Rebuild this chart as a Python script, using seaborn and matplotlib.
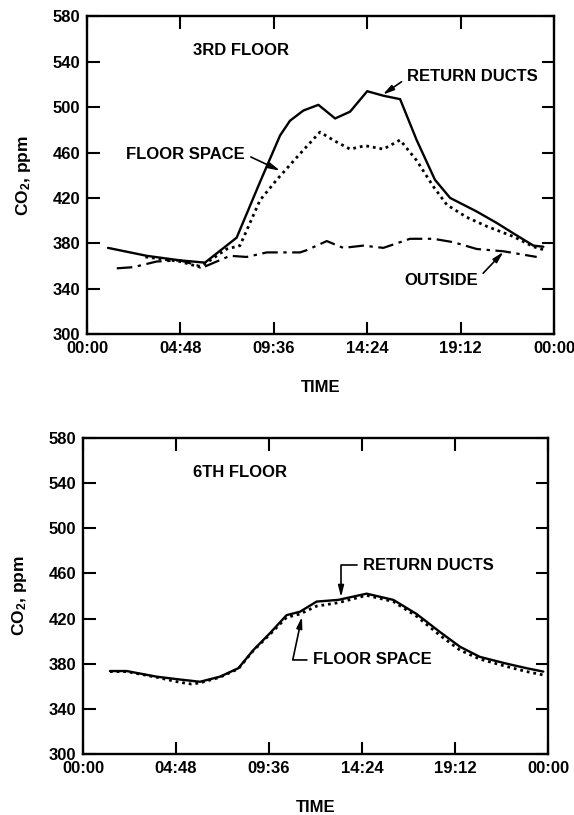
import numpy as np
import pandas as pd
import matplotlib
matplotlib.use("Agg")
import matplotlib.pyplot as plt
import seaborn as sns

# -- data (hours since midnight, CO2 ppm) --
ret3_h = [1.08, 3.07, 4.78, 6.06, 7.69, 8.89, 9.92, 10.43, 11.12, 11.89, 12.75, 13.52,
          14.40, 15.24, 16.09, 16.94, 17.88, 18.66, 20.03, 21.05, 22.08, 22.94, 23.45]
ret3_v = [376, 369, 365, 363, 385, 434, 475, 488, 497, 502, 490, 496,
          514, 510, 507, 471, 436, 420, 408, 398, 387, 378, 377]

flr3_h = [3.0, 4.78, 5.81, 7.18, 7.86, 8.89, 9.75, 10.95, 11.97, 12.75, 13.52, 14.29,
          15.23, 16.09, 16.94, 17.80, 18.49, 19.51, 20.54, 21.91, 22.94, 23.54]
flr3_v = [368, 364, 359, 375, 378, 418, 436, 459, 478, 470, 463, 466,
          463, 471, 453, 430, 414, 403, 395, 386, 377, 374]

out3_h = [1.53, 2.38, 3.58, 4.78, 5.98, 7.35, 8.21, 9.24, 10.95, 11.29, 12.32, 13.17,
          14.20, 15.23, 16.6, 17.80, 18.83, 20.03, 21.4, 23.11]
out3_v = [358, 359, 364, 365, 359, 369, 368, 372, 372, 374, 382, 376,
          378, 376, 384, 384, 381, 375, 373, 368]

ret6_h = [1.39, 2.25, 3.80, 5.0, 6.04, 7.07, 8.02, 8.79, 9.65, 10.51, 11.2, 12.06,
          13.18, 14.64, 16.02, 17.22, 18.43, 19.46, 20.49, 21.87, 22.9, 23.76]
ret6_v = [373.5, 373.5, 368.5, 366, 364, 368.5, 376, 392, 407, 423, 426, 435,
          436.5, 442, 436.5, 424, 408, 395, 386, 380, 376, 373]

flr6_h = [1.39, 2.25, 3.80, 5.0, 5.6, 6.04, 7.07, 8.02, 8.79, 9.65, 10.51, 11.2, 12.06,
          13.18, 14.64, 16.02, 17.22, 18.43, 19.46, 20.49, 21.87, 22.9, 23.76]
flr6_v = [373, 373, 368, 363.5, 362, 363, 368, 375.5, 391.5, 406, 421, 424, 431,
          434, 440.5, 435, 422, 405, 392, 384, 377.5, 373, 370]

xticks = [0, 4.8, 9.6, 14.4, 19.2, 24]
xtick_labels = ["00:00", "04:48", "09:36", "14:24", "19:12", "00:00"]
yticks = [300, 340, 380, 420, 460, 500, 540, 580]

sns.set_style("ticks")
plt.rcParams['font.family'] = ['Liberation Sans', 'DejaVu Sans']
plt.rcParams['font.weight'] = 'bold'
plt.rcParams['mathtext.fontset'] = 'custom'
plt.rcParams['mathtext.rm'] = 'Liberation Sans:bold'
plt.rcParams['mathtext.default'] = 'rm'
for key in ['text.color', 'axes.labelcolor', 'xtick.color', 'ytick.color', 'axes.edgecolor']:
    plt.rcParams[key] = 'black'

FS = 12
arrow = dict(arrowstyle='-|>,head_length=0.55,head_width=0.14', color='black', lw=1.2,
             shrinkA=2, shrinkB=0)


def style_axes(ax):
    ax.set_xlim(0, 24)
    ax.set_ylim(300, 580)
    ax.set_xticks(xticks)
    ax.set_xticklabels(xtick_labels)
    ax.set_yticks(yticks)
    ax.tick_params(direction='in', length=9, width=1.5, top=True, right=True,
                   labelsize=FS, pad=5, colors='black')
    for s in ax.spines.values():
        s.set_linewidth(1.7)
        s.set_color('black')
        s.set_visible(True)
    ax.set_ylabel("CO$_2$, ppm", fontsize=FS + 0.5, fontweight='bold', labelpad=14)
    ax.set_xlabel("TIME", fontsize=FS, fontweight='bold', labelpad=17)
    for lab in ax.get_xticklabels() + ax.get_yticklabels():
        lab.set_fontweight('bold')


fig = plt.figure(figsize=(5.74, 8.15), dpi=100, facecolor='white')
ax1 = fig.add_axes([0.1516, 0.590, 0.8136, 0.390])
ax2 = fig.add_axes([0.1446, 0.0748, 0.810, 0.388])

# top panel: 3rd floor
df_r3 = pd.DataFrame({'h': ret3_h, 'v': ret3_v})
df_f3 = pd.DataFrame({'h': flr3_h, 'v': flr3_v})
df_o3 = pd.DataFrame({'h': out3_h, 'v': out3_v})
sns.lineplot(data=df_r3, x='h', y='v', ax=ax1, color='black', lw=1.7, sort=False, estimator=None)
sns.lineplot(data=df_f3, x='h', y='v', ax=ax1, color='black', lw=2.0, sort=False, estimator=None,
             linestyle=(0, (1, 1.4)))
sns.lineplot(data=df_o3, x='h', y='v', ax=ax1, color='black', lw=1.6, sort=False, estimator=None,
             linestyle=(0, (7, 2.5, 1.5, 2.5)))
style_axes(ax1)

ax1.text(5.45, 550, "3RD FLOOR", fontsize=FS, fontweight='bold', va='center', ha='left')
ax1.annotate("RETURN DUCTS", xy=(15.2, 511), xytext=(16.45, 527), fontsize=FS,
             fontweight='bold', va='center', ha='left',
             arrowprops=dict(arrow, relpos=(0, 0.4)))
ax1.annotate("FLOOR SPACE", xy=(9.92, 444), xytext=(8.12, 458.5), fontsize=FS,
             fontweight='bold', va='center', ha='right',
             arrowprops=dict(arrow, relpos=(1, 0.5)))
ax1.annotate("OUTSIDE", xy=(21.4, 372.5), xytext=(20.09, 347.5), fontsize=FS,
             fontweight='bold', va='center', ha='right',
             arrowprops=dict(arrow, relpos=(1, 0.6)))

# bottom panel: 6th floor
df_r6 = pd.DataFrame({'h': ret6_h, 'v': ret6_v})
df_f6 = pd.DataFrame({'h': flr6_h, 'v': flr6_v})
sns.lineplot(data=df_f6, x='h', y='v', ax=ax2, color='black', lw=2.0, sort=False, estimator=None,
             linestyle=(0, (1, 1.4)))
sns.lineplot(data=df_r6, x='h', y='v', ax=ax2, color='black', lw=1.7, sort=False, estimator=None)
style_axes(ax2)

ax2.text(5.68, 549, "6TH FLOOR", fontsize=FS, fontweight='bold', va='center', ha='left')
ax2.annotate("RETURN DUCTS", xy=(13.32, 439), xytext=(14.45, 467), fontsize=FS,
             fontweight='bold', va='center', ha='left',
             arrowprops=dict(arrow, relpos=(0, 0.5),
                             connectionstyle='angle,angleA=0,angleB=90,rad=0'))
ax2.annotate("FLOOR SPACE", xy=(11.3, 421.5), xytext=(11.87, 383.3), fontsize=FS,
             fontweight='bold', va='center', ha='left',
             arrowprops=dict(arrow, relpos=(0, 0.5),
                             connectionstyle='angle,angleA=0,angleB=78,rad=0'))

plt.savefig("out.png", dpi=100, facecolor='white')
